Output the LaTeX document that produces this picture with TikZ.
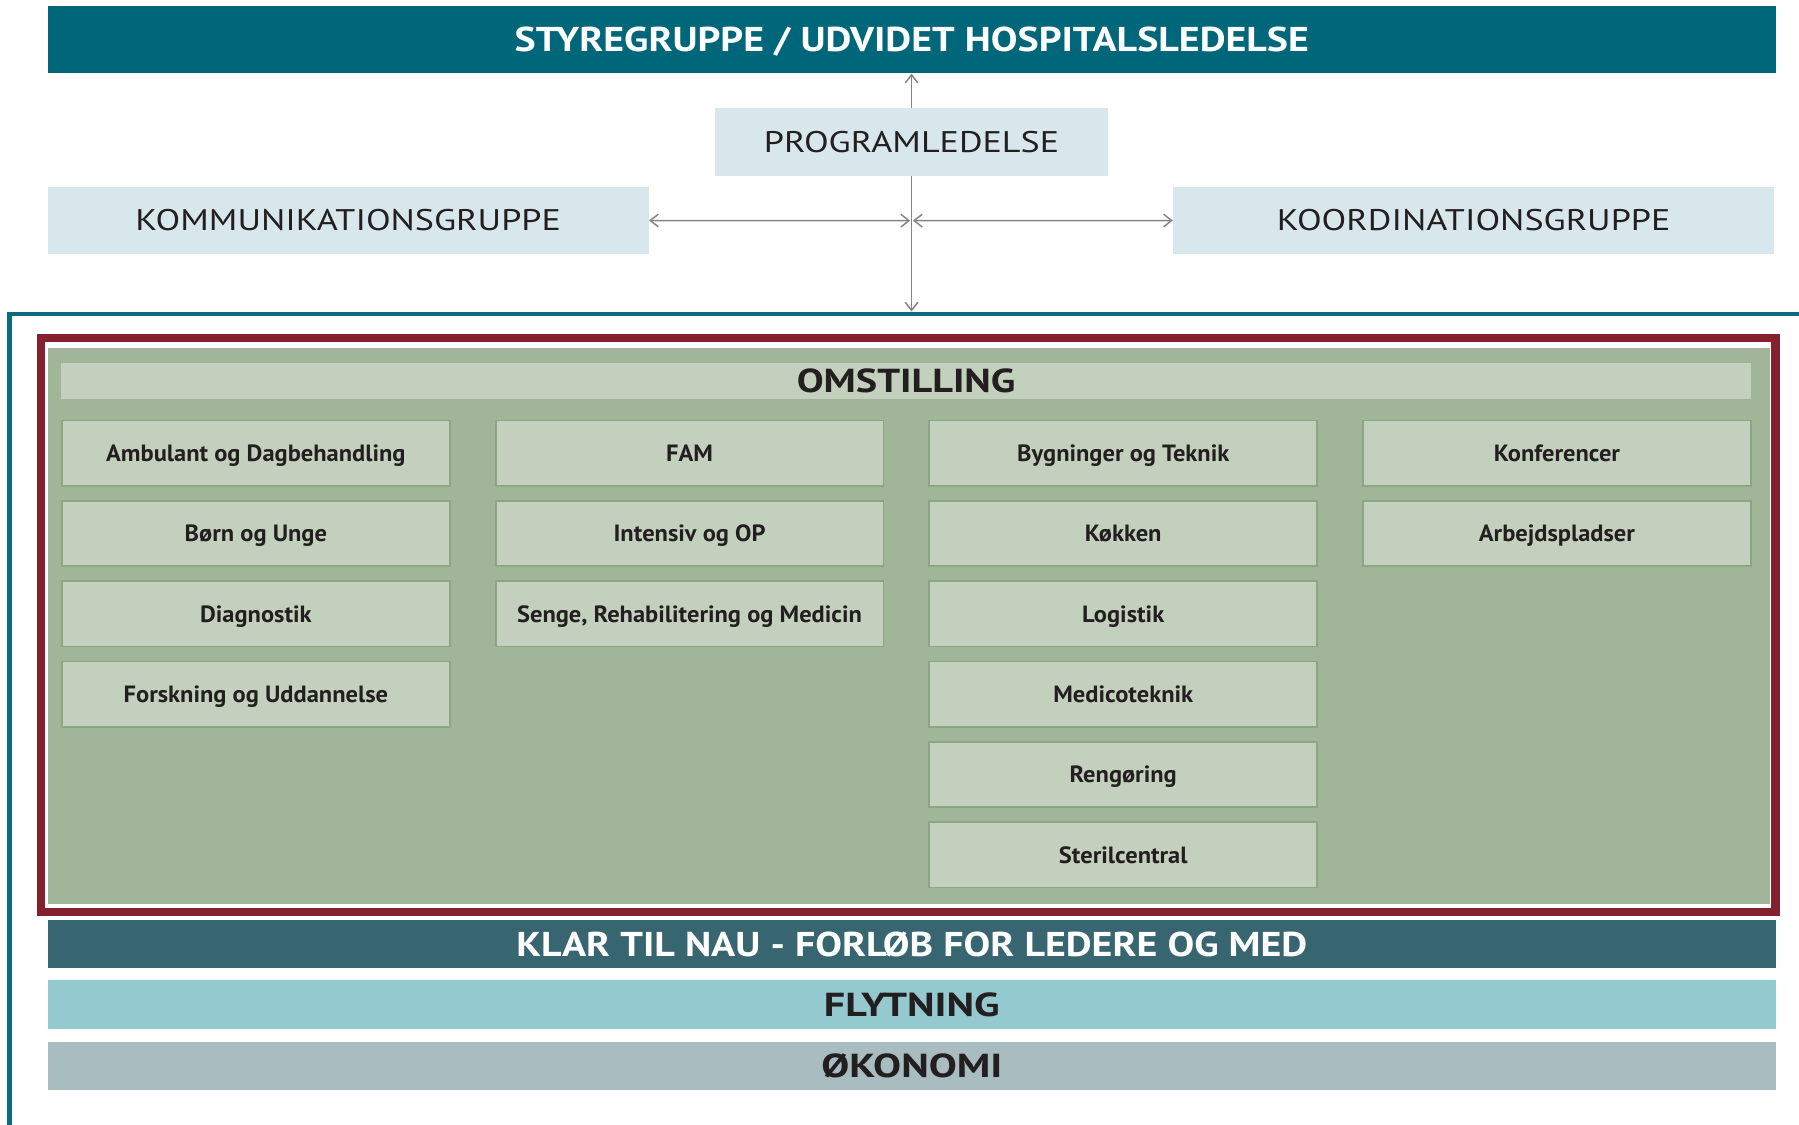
\documentclass[tikz,border=0pt]{standalone}
\usepackage{fontspec}
\setmainfont{PT Sans}
\newfontfamily\wideA[FakeStretch=1.21]{PT Sans}
\newfontfamily\wideB[FakeStretch=1.16]{PT Sans}
\newfontfamily\wideC[FakeStretch=1.26]{PT Sans}
\newfontfamily\labelfont[FakeStretch=1.04]{PT Sans}
\usetikzlibrary{arrows.meta}
\definecolor{headteal}{HTML}{00677B}
\definecolor{lightblue}{HTML}{D7E7EC}
\definecolor{arrgray}{HTML}{858585}
\definecolor{frameteal}{HTML}{0B6B80}
\definecolor{framered}{HTML}{85202F}
\definecolor{omgreen}{HTML}{A1B598}
\definecolor{boxgreen}{HTML}{C2D0BD}
\definecolor{boxedge}{HTML}{8CA585}
\definecolor{klarbar}{HTML}{376570}
\definecolor{flytbar}{HTML}{93C9CF}
\definecolor{okobar}{HTML}{A9BCBF}
\definecolor{txt}{HTML}{231F20}
\begin{document}
\begin{tikzpicture}[x=1pt,y=-1pt,
  band/.style={inner sep=0pt, minimum width=1506pt, text height=21pt, text depth=0pt},
  whitetxt/.style={font=\fontsize{30}{34}\wideB\bfseries},
  darktxt/.style={font=\fontsize{29}{34}\wideA\bfseries},
  bottomtxt/.style={font=\fontsize{29}{34}\wideC\bfseries},
  lightbox/.style={fill=lightblue, inner sep=0pt, text=txt, minimum height=59pt, text height=18.2pt, text depth=0pt, font=\fontsize{26}{30}\wideA},
  unit/.style={fill=boxgreen, draw=boxedge, line width=1.5pt, inner sep=0pt, minimum width=338pt, minimum height=57pt, text=txt, text height=14.4pt, text depth=0pt, font=\fontsize{20.5}{24}\labelfont\bfseries},
  arr/.style={draw=arrgray, line width=1.3pt, -{Straight Barb[length=7pt,width=11pt,line width=1.3pt]}},
  arrboth/.style={draw=arrgray, line width=1.3pt, {Straight Barb[length=7pt,width=11pt,line width=1.3pt]}-{Straight Barb[length=7pt,width=11pt,line width=1.3pt]}}
]
\useasboundingbox (0,0) rectangle (1568,980);
\fill[white] (0,0) rectangle (1568,980);

% top header
\node[band, whitetxt, fill=headteal, text=white, minimum height=59pt] (head) at (794.75,34.5) {STYREGRUPPE / UDVIDET HOSPITALSLEDELSE};

% governance boxes
\node[lightbox, minimum width=343pt] (prog) at (794.5,124) {PROGRAMLEDELSE};
\node[lightbox, minimum width=524pt] (komm) at (303.5,192.2) {KOMMUNIKATIONSGRUPPE};
\node[lightbox, minimum width=524pt] (koord) at (1284.4,192.2) {KOORDINATIONSGRUPPE};

% teal frame (open on right and bottom)
\draw[frameteal, line width=4pt] (8.5,990) -- (8.5,273.5) -- (1580,273.5);
\coordinate (frametop) at (794.5,271.5);
\coordinate (hub) at (794.5,192.3);

% connectors
\draw[arr] (prog.north) -- (head.south -| prog.north);
\draw[arr] (prog.south) -- (frametop);
\draw[arrboth] (komm.east) -- ([xshift=-1.2pt]hub);
\draw[arrboth] ([xshift=1.2pt]hub) -- (koord.west);

% omstilling frame
\fill[white] (32,291) rectangle (1551,798);
\node[fill=omgreen, inner sep=0pt, minimum width=1501.5pt, minimum height=485pt] (omstbg) at (792.25,545.5) {};
\draw[framered, line width=7pt] (35.5,294.5) rectangle (1547.5,794.5);

\node[fill=boxgreen, inner sep=0pt, minimum width=1472.5pt, minimum height=32pt, text=txt, text height=20.3pt, text depth=0pt, darktxt] (omst) at (789.75,332) {OMSTILLING};

% column 1
\node[unit] (c1r1) at (223,395) {Ambulant og Dagbehandling};
\node[unit] (c1r2) at (223,465) {Børn og Unge};
\node[unit] (c1r3) at (223,535) {Diagnostik};
\node[unit] (c1r4) at (223,605) {Forskning og Uddannelse};
% column 2
\node[unit] (c2r1) at (601,395) {FAM};
\node[unit] (c2r2) at (601,465) {Intensiv og OP};
\node[unit] (c2r3) at (601,535) {Senge, Rehabilitering og Medicin};
% column 3
\node[unit] (c3r1) at (979,395) {Bygninger og Teknik};
\node[unit] (c3r2) at (979,465) {Køkken};
\node[unit] (c3r3) at (979,535) {Logistik};
\node[unit] (c3r4) at (979,605) {Medicoteknik};
\node[unit] (c3r5) at (979,675) {Rengøring};
\node[unit] (c3r6) at (979,745) {Sterilcentral};
% column 4
\node[unit] (c4r1) at (1357,395) {Konferencer};
\node[unit] (c4r2) at (1357,465) {Arbejdspladser};

% bottom bands
\node[band, whitetxt, fill=klarbar, text=white, minimum height=42pt] (klar) at (794.75,823) {KLAR TIL NAU - FORLØB FOR LEDERE OG MED};
\node[band, bottomtxt, fill=flytbar, text=txt, minimum height=42.6pt] (flyt) at (794.75,875.3) {FLYTNING};
\node[band, bottomtxt, fill=okobar, text=txt, minimum height=42pt] (oko) at (794.75,929) {ØKONOMI};
\end{tikzpicture}
\end{document}
